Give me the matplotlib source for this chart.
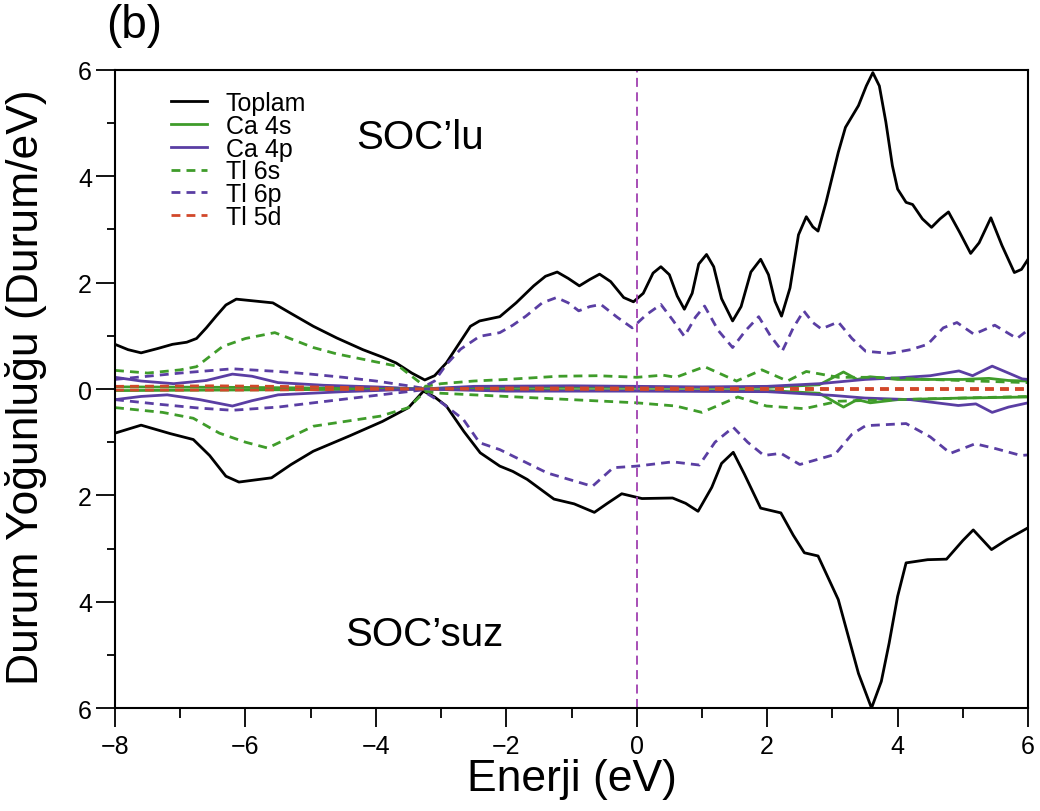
import numpy as np
import matplotlib
matplotlib.use('Agg')
import matplotlib.pyplot as plt
from matplotlib.ticker import FuncFormatter, MultipleLocator

plt.rcParams['font.family'] = ['Liberation Sans', 'DejaVu Sans']

# --- SOC'lu (ust yari, pozitif) ---
x_top_up = [-8.0, -7.8, -7.6, -7.35, -7.12, -6.9, -6.75, -6.6, -6.45, -6.3, -6.14, -5.9, -5.58, -5.3,
            -4.96, -4.6, -4.2, -3.9, -3.69, -3.45, -3.25, -3.1, -2.92, -2.7, -2.55, -2.41, -2.1, -1.85,
            -1.58, -1.4, -1.22, -1.05, -0.88, -0.72, -0.57, -0.4, -0.2, -0.05, 0.1, 0.25, 0.37, 0.5,
            0.62, 0.73, 0.85, 0.95, 1.07, 1.18, 1.3, 1.47, 1.6, 1.75, 1.9, 2.02, 2.12, 2.22, 2.35,
            2.48, 2.6, 2.7, 2.78, 2.9, 3.09, 3.2, 3.4, 3.52, 3.62, 3.72, 3.82, 3.92, 4.0, 4.13, 4.23,
            4.38, 4.52, 4.65, 4.78, 4.95, 5.12, 5.25, 5.43, 5.6, 5.79, 5.9, 6.0]
y_top_up = [0.84, 0.74, 0.68, 0.76, 0.84, 0.88, 0.95, 1.15, 1.37, 1.58, 1.69, 1.66, 1.62, 1.42,
            1.18, 0.96, 0.74, 0.60, 0.49, 0.30, 0.17, 0.25, 0.49, 0.90, 1.18, 1.28, 1.36, 1.62,
            1.94, 2.12, 2.20, 2.08, 1.94, 2.06, 2.16, 2.02, 1.72, 1.64, 1.80, 2.18, 2.30, 2.15,
            1.75, 1.50, 1.80, 2.35, 2.53, 2.30, 1.70, 1.28, 1.55, 2.20, 2.44, 2.15, 1.65, 1.37, 1.90,
            2.90, 3.24, 3.05, 2.97, 3.50, 4.45, 4.92, 5.33, 5.70, 5.95, 5.70, 5.02, 4.20, 3.76, 3.51, 3.47,
            3.20, 3.04, 3.20, 3.33, 2.95, 2.55, 2.75, 3.22, 2.70, 2.19, 2.25, 2.44]

x_tl6p_up = [-8.0, -7.5, -7.0, -6.5, -6.2, -5.5, -5.0, -4.5, -4.0, -3.5, -3.3, -3.1, -2.92, -2.7, -2.41,
             -2.1, -1.9, -1.7, -1.45, -1.23, -1.05, -0.89, -0.72, -0.55, -0.3, -0.07, 0.15, 0.37, 0.55,
             0.73, 0.9, 1.04, 1.25, 1.47, 1.67, 1.87, 2.05, 2.23, 2.4, 2.56, 2.7, 2.83, 3.09, 3.3, 3.51,
             3.88, 4.2, 4.46, 4.7, 4.91, 5.17, 5.49, 5.83, 6.0]
y_tl6p_up = [0.18, 0.24, 0.30, 0.35, 0.38, 0.33, 0.28, 0.22, 0.15, 0.06, 0.02, 0.15, 0.46, 0.75, 0.99,
             1.06, 1.20, 1.37, 1.62, 1.72, 1.62, 1.47, 1.55, 1.59, 1.35, 1.15, 1.40, 1.59, 1.30,
             0.99, 1.35, 1.56, 1.10, 0.78, 1.10, 1.36, 1.00, 0.71, 1.15, 1.47, 1.25, 1.13, 1.26, 0.95, 0.71,
             0.67, 0.74, 0.84, 1.15, 1.25, 1.03, 1.20, 0.95, 1.11]

x_tl6s_up = [-8.0, -7.5, -7.0, -6.75, -6.35, -6.0, -5.55, -4.96, -4.6, -4.2, -3.64, -3.25, -3.0, -2.5,
             -2.0, -1.2, -0.6, 0.0, 0.4, 0.6, 1.04, 1.53, 1.92, 2.31, 2.6, 3.09, 3.6, 4.5, 5.2, 6.0]
y_tl6s_up = [0.35, 0.30, 0.36, 0.42, 0.80, 0.95, 1.06, 0.78, 0.66, 0.56, 0.42, 0.05, 0.10, 0.15,
             0.18, 0.24, 0.25, 0.22, 0.26, 0.22, 0.42, 0.15, 0.36, 0.15, 0.33, 0.22, 0.22, 0.18, 0.15, 0.12]

x_ca4p_up = [-8.0, -7.6, -7.1, -6.6, -6.2, -5.9, -5.5, -4.8, -4.0, -3.3, -2.5, -1.0, 0.0, 1.0, 2.0, 2.8,
             3.5, 4.0, 4.5, 4.94, 5.15, 5.45, 5.7, 5.91, 6.0]
y_ca4p_up = [0.22, 0.15, 0.10, 0.16, 0.28, 0.24, 0.12, 0.07, 0.04, 0.0, 0.05, 0.06, 0.05, 0.04, 0.05, 0.10,
             0.18, 0.21, 0.25, 0.34, 0.25, 0.43, 0.30, 0.19, 0.18]

x_ca4s_up = [-8.0, -6.0, -3.3, -2.0, 0.0, 2.0, 2.8, 3.17, 3.38, 3.58, 4.0, 4.5, 5.0, 5.4, 5.7, 6.0]
y_ca4s_up = [0.04, 0.03, 0.0, 0.03, 0.03, 0.03, 0.08, 0.32, 0.18, 0.23, 0.18, 0.18, 0.18, 0.20, 0.16, 0.15]

x_tl5d_up = [-8.0, -6.5, -5.5, -4.5, -3.3, -2.0, 0.0, 3.0, 6.0]
y_tl5d_up = [0.05, 0.06, 0.05, 0.03, 0.0, 0.02, 0.02, 0.01, 0.01]

# --- SOC'suz (alt yari, negatif) ---
x_top_dn = [-8.0, -7.6, -7.15, -6.8, -6.55, -6.3, -6.1, -5.6, -5.3, -4.96, -4.4, -3.9, -3.5, -3.27, -3.1,
            -2.92, -2.65, -2.4, -2.1, -1.9, -1.68, -1.27, -0.96, -0.65, -0.45, -0.23, 0.08, 0.55, 0.75,
            0.94, 1.15, 1.3, 1.48, 1.65, 1.9, 2.21, 2.4, 2.57, 2.78, 3.09, 3.4, 3.6, 3.75, 3.87, 4.0,
            4.13, 4.46, 4.75, 5.0, 5.16, 5.44, 5.68, 6.0]
y_top_dn = [-0.83, -0.68, -0.84, -0.95, -1.25, -1.64, -1.75, -1.67, -1.42, -1.17, -0.88, -0.61, -0.35, -0.04, -0.15,
            -0.32, -0.80, -1.20, -1.45, -1.55, -1.70, -2.07, -2.16, -2.32, -2.15, -1.97, -2.06, -2.05, -2.15,
            -2.30, -1.85, -1.40, -1.19, -1.60, -2.24, -2.33, -2.75, -3.08, -3.14, -3.96, -5.35, -6.0, -5.5, -4.78, -3.9,
            -3.27, -3.21, -3.20, -2.85, -2.65, -3.02, -2.83, -2.61]

x_tl6p_dn = [-8.0, -7.3, -6.7, -6.2, -5.5, -4.96, -4.0, -3.3, -3.0, -2.66, -2.41, -2.1, -1.37, -0.68, -0.36,
             0.0, 0.55, 0.96, 1.2, 1.48, 1.7, 1.95, 2.21, 2.5, 3.04, 3.3, 3.51, 4.13, 4.5, 4.81, 5.19,
             5.5, 5.89, 6.0]
y_tl6p_dn = [-0.20, -0.29, -0.36, -0.40, -0.34, -0.26, -0.12, -0.02, -0.25, -0.57, -1.01, -1.14, -1.58, -1.83, -1.48,
             -1.45, -1.37, -1.43, -1.00, -0.72, -1.00, -1.25, -1.21, -1.42, -1.23, -0.85, -0.69, -0.65, -0.90, -1.21, -1.03,
             -1.12, -1.25, -1.24]

x_tl6s_dn = [-8.0, -7.27, -6.8, -6.4, -6.0, -5.66, -5.3, -4.96, -3.93, -3.5, -3.25, -3.0, -2.0, -1.0, 0.0,
             0.6, 1.0, 1.55, 1.99, 2.57, 3.09, 4.0, 5.0, 6.0]
y_tl6s_dn = [-0.35, -0.44, -0.55, -0.83, -1.00, -1.11, -0.90, -0.70, -0.51, -0.35, -0.05, -0.08, -0.14, -0.20, -0.26,
             -0.32, -0.44, -0.15, -0.32, -0.37, -0.23, -0.20, -0.17, -0.14]

x_ca4p_dn = [-8.0, -7.6, -7.2, -6.7, -6.2, -5.9, -5.5, -4.5, -3.3, -2.0, 0.0, 2.0, 3.0, 3.5, 4.2, 4.93,
             5.2, 5.45, 5.7, 6.0]
y_ca4p_dn = [-0.20, -0.14, -0.11, -0.20, -0.32, -0.22, -0.11, -0.05, 0.0, -0.04, -0.04, -0.05, -0.12, -0.17, -0.20, -0.31,
             -0.28, -0.44, -0.34, -0.26]

x_ca4s_dn = [-8.0, -3.3, -1.0, 2.0, 2.8, 3.17, 3.38, 3.58, 4.0, 5.0, 6.0]
y_ca4s_dn = [-0.03, 0.0, -0.03, -0.03, -0.08, -0.34, -0.20, -0.26, -0.20, -0.17, -0.15]

x_tl5d_dn = [-8.0, -6.0, -3.3, 0.0, 6.0]
y_tl5d_dn = [-0.02, -0.02, 0.0, -0.01, -0.01]

c_top = 'black'
c_s = '#3f9c2a'
c_p = '#5a3ea3'
c_d = '#d2482a'
dash = (3.2, 2.2)

fig = plt.figure(figsize=(10.4, 8.12), dpi=100)
ax = fig.add_axes([0.1106, 0.1268, 0.8779, 0.7858])

ax.plot(x_top_up, y_top_up, color=c_top, lw=2.0, label='Toplam')
ax.plot(x_ca4s_up, y_ca4s_up, color=c_s, lw=2.0, label='Ca 4s')
ax.plot(x_ca4p_up, y_ca4p_up, color=c_p, lw=2.0, label='Ca 4p')
ax.plot(x_tl6s_up, y_tl6s_up, color=c_s, lw=2.0, dashes=dash, label='Tl 6s')
ax.plot(x_tl6p_up, y_tl6p_up, color=c_p, lw=2.0, dashes=dash, label='Tl 6p')
ax.plot(x_tl5d_up, y_tl5d_up, color=c_d, lw=2.0, dashes=dash, label='Tl 5d')

ax.plot(x_top_dn, y_top_dn, color=c_top, lw=2.0)
ax.plot(x_ca4s_dn, y_ca4s_dn, color=c_s, lw=2.0)
ax.plot(x_ca4p_dn, y_ca4p_dn, color=c_p, lw=2.0)
ax.plot(x_tl6s_dn, y_tl6s_dn, color=c_s, lw=2.0, dashes=dash)
ax.plot(x_tl6p_dn, y_tl6p_dn, color=c_p, lw=2.0, dashes=dash)
ax.plot(x_tl5d_dn, y_tl5d_dn, color=c_d, lw=2.0, dashes=dash)

ax.axvline(0, color='#a040b0', lw=1.3, dashes=(5, 3))

ax.set_xlim(-8, 6)
ax.set_ylim(-6, 6)
ax.xaxis.set_major_locator(MultipleLocator(2))
ax.xaxis.set_minor_locator(MultipleLocator(1))
ax.yaxis.set_major_locator(MultipleLocator(2))
ax.yaxis.set_minor_locator(MultipleLocator(1))
ax.yaxis.set_major_formatter(FuncFormatter(lambda v, p: '%d' % abs(round(v))))
ax.xaxis.set_major_formatter(FuncFormatter(lambda v, p: ('%d' % round(v)).replace('-', '\u2212')))
ax.tick_params(which='both', direction='out', labelsize=18, width=1.3)
ax.tick_params(which='major', length=13.5)
ax.tick_params(axis='x', which='major', pad=5)
ax.tick_params(axis='y', which='major', pad=3)
ax.tick_params(axis='x', which='minor', length=7.5)
ax.tick_params(axis='y', which='minor', length=6)
for s in ax.spines.values():
    s.set_linewidth(1.5)

ax.set_xlabel('Enerji (eV)', fontsize=32, labelpad=0)
ax.set_ylabel('Durum Yoğunluğu (Durum/eV)', fontsize=32)
ax.yaxis.set_label_coords(-0.0745, 0.505)

ax.text(-3.32, 4.54, "SOC\u2019lu", fontsize=29, ha='center', va='baseline')
ax.text(-3.26, -4.81, "SOC\u2019suz", fontsize=29, ha='center', va='baseline')
fig.text(0.129, 0.968, '(b)', fontsize=33, ha='center', va='center')

leg = ax.legend(loc='upper left', bbox_to_anchor=(171 / 1040, 1 - 92 / 812),
                bbox_transform=fig.transFigure, frameon=False, fontsize=18,
                handlelength=1.45, labelspacing=-0.05, handletextpad=0.75,
                borderpad=0, borderaxespad=0)

fig.savefig('out.png', dpi=100)
